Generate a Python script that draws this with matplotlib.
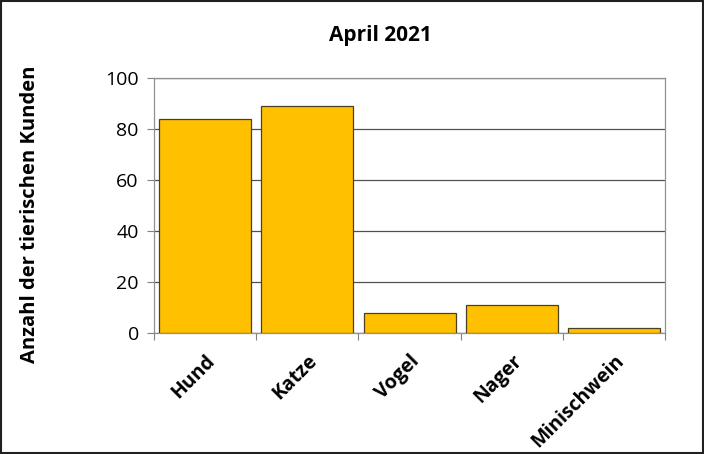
import matplotlib
matplotlib.use('Agg')
import matplotlib.pyplot as plt
import matplotlib.transforms as mtransforms

categories = ['Hund', 'Katze', 'Vogel', 'Nager', 'Minischwein']
counts = [84, 89, 8, 11, 2]
title = 'April 2021'
ylabel = 'Anzahl der tierischen Kunden'

plt.rcParams['font.family'] = ['Open Sans', 'DejaVu Sans']

fig = plt.figure(figsize=(7.04, 4.54), dpi=100)
ax = fig.add_axes([0.2188, 0.2665, 0.7258, 0.5615])

x = list(range(len(categories)))
ax.bar(x, counts, width=0.9, color='#FFC000', edgecolor='#4d4020',
       linewidth=0.9, zorder=3)

ax.set_xlim(-0.5, len(categories) - 0.5)
ax.set_ylim(0, 100)
ax.set_yticks(range(0, 101, 20))
ax.yaxis.grid(True, color='#505050', linewidth=0.9, zorder=0)

# ticks between categories, like the spreadsheet axis
ax.set_xticks([i + 0.5 for i in range(-1, len(categories))], minor=False)
ax.set_xticklabels([])
ax.set_xticks(x, minor=True)
ax.set_xticklabels(categories, minor=True, rotation=45, ha='right',
                   rotation_mode='anchor', fontsize=14, fontweight='bold')
shift = mtransforms.ScaledTranslation(6 / 100, 0, fig.dpi_scale_trans)
for lab in ax.get_xticklabels(minor=True):
    lab.set_transform(lab.get_transform() + shift)
ax.tick_params(axis='x', which='minor', length=0, pad=13)
ax.tick_params(axis='x', which='major', length=5, color='#808080',
               direction='out')
ax.tick_params(axis='y', length=5, color='#808080', labelsize=14, pad=6)

for s in ax.spines.values():
    s.set_color('#909090')
    s.set_linewidth(0.9)

fig.text(0.541, 0.922, title, ha='center', va='center',
         fontsize=15, fontweight='bold')
fig.text(0.043, 0.527, ylabel, rotation=90, ha='center', va='center',
         fontsize=14.5, fontweight='bold')

# dark frame around the whole picture
fig.patches.append(plt.Rectangle((0.002, 0.003), 0.996, 0.994,
                                 transform=fig.transFigure, fill=False,
                                 edgecolor='#202020', linewidth=1.5))

plt.savefig('out.png', dpi=100)
plt.close(fig)
